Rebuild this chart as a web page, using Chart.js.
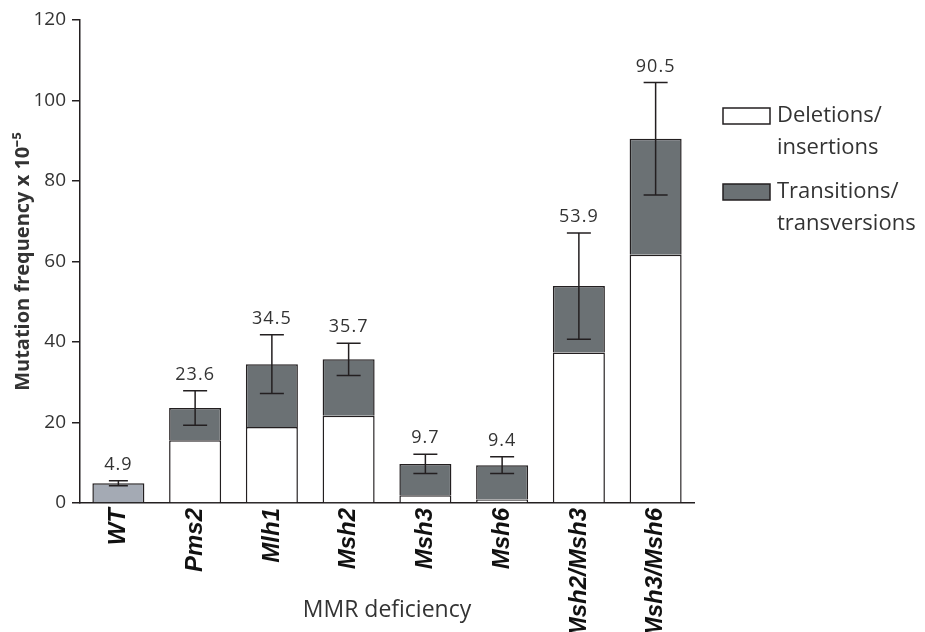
<!DOCTYPE html>
<html>
<head>
<meta charset="utf-8">
<script src="https://cdn.jsdelivr.net/npm/chart.js@4.4.0/dist/chart.umd.min.js"></script>
<style>
  html, body { margin: 0; padding: 0; background: #fff; }
  #wrap { width: 925px; height: 632px; position: relative; }
</style>
</head>
<body>
<div id="wrap"><canvas id="mmrChart"></canvas></div>
<script>
// data
var categories = ["WT", "Pms2", "Mlh1", "Msh2", "Msh3", "Msh6", "Msh2/Msh3", "Msh3/Msh6"];
var deletions = [null, 15.6, 18.9, 21.7, 1.9, 0.9, 37.4, 61.7];     // white part
var transitions = [4.9, 8.0, 15.6, 14.0, 7.8, 8.5, 16.5, 28.8];     // grey part
var totals = [4.9, 23.6, 34.5, 35.7, 9.7, 9.4, 53.9, 90.5];          // numbers printed above bars
var errors = [0.6, 4.3, 7.3, 4.0, 2.4, 2.1, 13.2, 14.0];
var legendLabels = [["Deletions/", "insertions"], ["Transitions/", "transversions"]];

var ink = "#231f20";
var textCol = "#333333";
var grey = "#6b7174";
var wtGrey = "#a4aab4";

// error bars + value labels, positioned with the chart's scales
var errorBars = {
    id: "errorBars",
    afterDatasetsDraw: function (chart) {
        var ctx = chart.ctx;
        var xs = chart.scales.x, ys = chart.scales.y;
        ctx.save();
        ctx.strokeStyle = ink;
        ctx.lineWidth = 1.5;
        for (var i = 0; i < totals.length; i++) {
            var x = xs.getPixelForValue(i);
            var top = ys.getPixelForValue(totals[i] + errors[i]);
            var bot = ys.getPixelForValue(totals[i] - errors[i]);
            var half = i === 0 ? 9.5 : 12;
            ctx.beginPath();
            ctx.moveTo(x, top); ctx.lineTo(x, bot);
            ctx.moveTo(x - half, top); ctx.lineTo(x + half, top);
            ctx.moveTo(x - half, bot); ctx.lineTo(x + half, bot);
            ctx.stroke();
            ctx.fillStyle = textCol;
            ctx.font = "18px 'Open Sans'";
            ctx.letterSpacing = "1px";
            ctx.textAlign = "center";
            ctx.textBaseline = "middle";
            ctx.fillText(totals[i].toFixed(1), x, top - 16);
        }
        ctx.restore();
    }
};

// legend on the right with two-line labels
var sideLegend = {
    id: "sideLegend",
    afterDraw: function (chart) {
        var ctx = chart.ctx;
        var x0 = chart.chartArea.right + 29;
        var rows = [108, 184];
        ctx.save();
        chart.data.datasets.forEach(function (ds, k) {
            var y = rows[k];
            ctx.fillStyle = k === 0 ? "#ffffff" : grey;
            ctx.fillRect(x0, y, 47, 16);
            ctx.strokeStyle = ink;
            ctx.lineWidth = 1.5;
            ctx.strokeRect(x0, y, 47, 16);
            ctx.fillStyle = textCol;
            ctx.font = "22px 'Open Sans'";
            ctx.textAlign = "left";
            ctx.textBaseline = "middle";
            legendLabels[k].forEach(function (line, j) {
                ctx.fillText(line, x0 + 54, y + 8 + j * 32);
            });
        });
        ctx.restore();
    }
};

var ctx = document.getElementById("mmrChart").getContext("2d");
var mmrChart = new Chart(ctx, {
    type: "bar",
    data: {
        labels: categories,
        datasets: [{
            label: "Deletions/insertions",
            data: deletions,
            backgroundColor: "#ffffff",
            borderColor: ink,
            borderWidth: 1.5
        }, {
            label: "Transitions/transversions",
            data: transitions,
            backgroundColor: categories.map(function (c, i) { return i === 0 ? wtGrey : grey; }),
            borderColor: ink,
            borderWidth: 1.5
        }]
    },
    options: {
        responsive: true,
        maintainAspectRatio: false,
        animation: false,
        categoryPercentage: 1,
        barPercentage: 0.678,
        layout: { padding: { top: 20, right: 231, bottom: 0, left: 0 } },
        plugins: {
            legend: { display: false },
            tooltip: { enabled: false }
        },
        scales: {
            x: {
                stacked: true,
                grid: { display: false, drawTicks: false },
                border: { display: true, color: ink, width: 1.5 },
                ticks: {
                    color: "#111",
                    padding: 5,
                    minRotation: 90,
                    maxRotation: 90,
                    autoSkip: false,
                    font: { family: "'Liberation Sans Narrow', 'Liberation Sans', Arial", size: 24, weight: "bold", style: "italic" }
                },
                title: {
                    display: true,
                    text: "MMR deficiency",
                    color: textCol,
                    font: { family: "'Open Sans'", size: 23 },
                    padding: { top: 0, bottom: 8 }
                },
                afterFit: function (s) { s.height = 129; }
            },
            y: {
                stacked: true,
                min: 0,
                max: 120,
                ticks: {
                    stepSize: 20,
                    color: textCol,
                    padding: 6,
                    font: { family: "'Open Sans'", size: 19 }
                },
                grid: { drawOnChartArea: false, drawTicks: true, tickLength: 8, color: ink, lineWidth: 1.5 },
                border: { display: true, color: ink, width: 1.5 },
                title: {
                    display: true,
                    text: "Mutation frequency x 10\u207B\u2075",
                    color: textCol,
                    font: { family: "'Open Sans'", size: 20, weight: "bold" },
                    padding: { top: 11, bottom: 0 }
                },
                afterFit: function (s) { s.width = 80; }
            }
        }
    },
    plugins: [errorBars, sideLegend]
});
</script>
</body>
</html>
